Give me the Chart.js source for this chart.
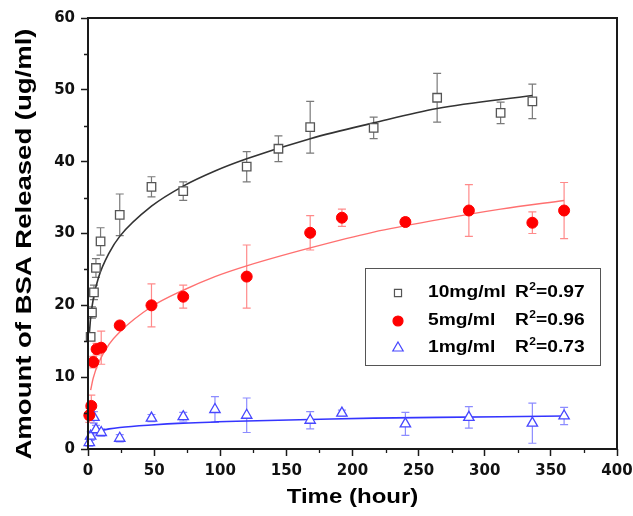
<!DOCTYPE html>
<html>
<head>
<meta charset="utf-8">
<script src="https://cdn.jsdelivr.net/npm/chart.js@4.4.1/dist/chart.umd.min.js"></script>
<style>
  html, body { margin: 0; padding: 0; background: #fff; }
  #wrap { width: 633px; height: 516px; }
</style>
</head>
<body>
<div id="wrap"><canvas id="chart" width="633" height="516"></canvas></div>
<script>
// measured points (time in hours, BSA in ug/ml, +/- error)
const t10 = [2, 3, 4.5, 6, 9.5, 24, 48, 72, 120, 144, 168, 216, 264, 312, 336];
const v10 = [15.6, 19.0, 21.8, 25.2, 28.9, 32.6, 36.5, 35.9, 39.3, 41.8, 44.8, 44.7, 48.9, 46.8, 48.4];
const e10 = [0.4, 0.8, 1.0, 1.3, 1.9, 2.9, 1.4, 1.3, 2.1, 1.8, 3.6, 1.5, 3.4, 1.5, 2.4];

const t5 = [1, 2.5, 4, 6.5, 10, 24, 48, 72, 120, 168, 192, 240, 288, 336, 360];
const v5 = [4.7, 6.0, 12.1, 13.9, 14.1, 17.2, 20.0, 21.2, 24.0, 30.1, 32.2, 31.6, 33.2, 31.5, 33.2];
const e5 = [1.0, 1.5, 0.8, 0.8, 2.3, 0.4, 3.0, 1.6, 4.4, 2.4, 1.2, 0.6, 3.6, 1.5, 3.9];

const t1 = [1, 2, 4.5, 6, 10, 24, 48, 72, 96, 120, 168, 192, 240, 288, 336, 360];
const v1 = [0.9, 1.8, 4.4, 2.7, 2.3, 1.5, 4.3, 4.5, 5.5, 4.7, 4.0, 5.0, 3.5, 4.4, 3.6, 4.6];
const e1 = [0.5, 0.6, 0.8, 0.6, 0.5, 0.5, 0.5, 0.6, 1.8, 2.4, 1.2, 0.4, 1.6, 1.5, 2.8, 1.2];

// fitted curves
const fitT10 = [1, 2, 4, 8, 16, 24, 48, 72, 96, 120, 168, 216, 264, 336];
const fitV10 = [16.0, 18.3, 20.9, 23.9, 27.3, 29.6, 33.8, 36.6, 38.7, 40.4, 43.2, 45.4, 47.4, 49.2];
const fitT5 = [2, 4, 8, 16, 24, 48, 72, 96, 120, 168, 216, 264, 312, 360];
const fitV5 = [8.2, 9.9, 12.0, 14.6, 16.3, 19.8, 22.1, 24.0, 25.5, 28.0, 30.2, 31.9, 33.4, 34.6];
const fitT1 = [0.5, 1, 2, 4, 8, 16, 24, 48, 72, 120, 168, 216, 264, 312, 360];
const fitV1 = [1.6, 1.8, 2.0, 2.25, 2.5, 2.8, 3.0, 3.35, 3.6, 3.9, 4.1, 4.3, 4.4, 4.5, 4.6];

const legendNames = ['10mg/ml', '5mg/ml', '1mg/ml'];
const r2Values = ['0.97', '0.96', '0.73'];
const xTitle = 'Time (hour)';
const yTitle = 'Amount of BSA Released (ug/ml)';

const FONT = '"Liberation Sans", Arial, sans-serif';
const TICK_FONT = '"DejaVu Sans", sans-serif';

const toXY = (xs, ys) => xs.map((x, i) => ({ x: x, y: ys[i] }));

// draw text stretched horizontally (the figure uses a wide bold sans)
function wideText(ctx, text, x, y, sx) {
  ctx.save();
  ctx.translate(x, y);
  ctx.scale(sx, 1);
  ctx.fillText(text, 0, 0);
  const w = ctx.measureText(text).width * sx;
  ctx.restore();
  return w;
}

const extras = {
  id: 'extras',
  beforeDatasetsDraw(chart) {
    const ctx = chart.ctx;
    const xs = chart.scales.x, ys = chart.scales.y;
    chart.data.datasets.forEach(ds => {
      if (!ds.errs) return;
      ctx.save();
      ctx.strokeStyle = ds.errColor;
      ctx.lineWidth = 1.2;
      ds.data.forEach((p, i) => {
        const px = xs.getPixelForValue(p.x);
        const top = ys.getPixelForValue(p.y + ds.errs[i]);
        const bot = ys.getPixelForValue(p.y - ds.errs[i]);
        ctx.beginPath();
        ctx.moveTo(px, top); ctx.lineTo(px, bot);
        ctx.moveTo(px - 4, top); ctx.lineTo(px + 4, top);
        ctx.moveTo(px - 4, bot); ctx.lineTo(px + 4, bot);
        ctx.stroke();
      });
      ctx.restore();
    });
  },
  afterDraw(chart) {
    const ctx = chart.ctx;
    const a = chart.chartArea;
    const xs = chart.scales.x, ys = chart.scales.y;
    ctx.save();

    // frame
    ctx.strokeStyle = '#1a1a1a';
    ctx.lineWidth = 2;
    ctx.strokeRect(a.left, a.top, a.right - a.left, a.bottom - a.top);

    // minor ticks
    ctx.lineWidth = 1.3;
    ctx.beginPath();
    for (let v = 25; v < 400; v += 50) {
      const px = Math.round(xs.getPixelForValue(v)) + 0.5;
      ctx.moveTo(px, a.bottom); ctx.lineTo(px, a.bottom + 4);
    }
    for (let v = 5; v < 60; v += 10) {
      const py = Math.round(ys.getPixelForValue(v)) + 0.5;
      ctx.moveTo(a.left, py); ctx.lineTo(a.left - 4, py);
    }
    ctx.stroke();

    // axis titles
    ctx.fillStyle = '#000';
    ctx.textBaseline = 'middle';
    ctx.textAlign = 'left';
    ctx.font = 'bold 20px ' + FONT;
    let w = ctx.measureText(xTitle).width * 1.2;
    wideText(ctx, xTitle, (a.left + a.right) / 2 - w / 2, 497, 1.2);

    ctx.save();
    ctx.translate(25, 244);
    ctx.rotate(-Math.PI / 2);
    ctx.font = 'bold 22px ' + FONT;
    const yw = ctx.measureText(yTitle).width;
    const sy = 431 / yw;
    wideText(ctx, yTitle, -yw * sy / 2, 0, sy);
    ctx.restore();

    // legend box
    const lx = a.left + 277, ly = a.top + 250;
    ctx.strokeStyle = '#555';
    ctx.lineWidth = 1;
    ctx.strokeRect(lx + 0.5, ly + 0.5, 235, 97);
    const rowsY = [25, 53, 80];
    const pts = chart.data.datasets.filter(d => d.errs);
    pts.forEach((ds, i) => {
      const cy = ly + rowsY[i];
      const cx = lx + 33;
      ctx.fillStyle = ds.backgroundColor;
      ctx.strokeStyle = ds.borderColor;
      ctx.lineWidth = 1.2;
      Chart.helpers.drawPoint(ctx, {
        pointStyle: ds.pointStyle,
        radius: ds.pointStyle === 'triangle' ? 6 : 5,
        borderWidth: 1.2,
        rotation: 0
      }, cx, cy);

      ctx.fillStyle = '#000';
      ctx.font = 'bold 16px ' + FONT;
      wideText(ctx, legendNames[i], lx + 63, cy, 1.2);
      let rx = lx + 150;
      rx += wideText(ctx, 'R', rx, cy, 1.2);
      ctx.font = 'bold 10px ' + FONT;
      rx += wideText(ctx, '2', rx + 0.5, cy - 6, 1.2);
      ctx.font = 'bold 16px ' + FONT;
      wideText(ctx, '=' + r2Values[i], rx + 0.5, cy, 1.2);
    });
    ctx.restore();
  }
};

const ctx = document.getElementById('chart').getContext('2d');
new Chart(ctx, {
  type: 'scatter',
  data: {
    datasets: [
      {
        label: legendNames[0],
        data: toXY(t10, v10),
        errs: e10,
        errColor: '#7a7a7a',
        pointStyle: 'rect',
        pointRadius: 6,
        backgroundColor: '#ffffff',
        borderColor: '#555555',
        borderWidth: 1.3,
        clip: false,
        order: 0
      },
      {
        label: legendNames[1],
        data: toXY(t5, v5),
        errs: e5,
        errColor: '#ff8a8a',
        pointStyle: 'circle',
        pointRadius: 5.5,
        backgroundColor: '#ff0000',
        borderColor: '#ff0000',
        borderWidth: 1,
        clip: false,
        order: 0
      },
      {
        label: legendNames[2],
        data: toXY(t1, v1),
        errs: e1,
        errColor: '#8c8cff',
        pointStyle: 'triangle',
        pointRadius: 6,
        backgroundColor: '#ffffff',
        borderColor: '#4747ff',
        borderWidth: 1.3,
        clip: false,
        order: 0
      },
      {
        label: 'fit10',
        data: toXY(fitT10, fitV10),
        showLine: true,
        pointRadius: 0,
        borderColor: '#333333',
        borderWidth: 1.6,
        cubicInterpolationMode: 'monotone',
        order: 1
      },
      {
        label: 'fit5',
        data: toXY(fitT5, fitV5),
        showLine: true,
        pointRadius: 0,
        borderColor: '#ff7070',
        borderWidth: 1.4,
        cubicInterpolationMode: 'monotone',
        order: 1
      },
      {
        label: 'fit1',
        data: toXY(fitT1, fitV1),
        showLine: true,
        pointRadius: 0,
        borderColor: '#3535ff',
        borderWidth: 1.6,
        cubicInterpolationMode: 'monotone',
        order: 1
      }
    ]
  },
  options: {
    responsive: false,
    animation: false,
    devicePixelRatio: 1,
    layout: { padding: { top: 18, right: 16, left: 0, bottom: 0 } },
    plugins: {
      legend: { display: false },
      tooltip: { enabled: false }
    },
    scales: {
      x: {
        type: 'linear',
        min: 0,
        max: 400,
        afterFit: s => { s.height = 67; s.paddingLeft = 0; s.paddingRight = 0; },
        ticks: {
          stepSize: 50,
          color: '#111',
          padding: 6,
          maxRotation: 0,
          font: { family: TICK_FONT, size: 15, weight: 'bold' }
        },
        grid: { drawOnChartArea: false, tickLength: 7, tickColor: '#1a1a1a', tickWidth: 1.5 },
        border: { display: false }
      },
      y: {
        min: 0,
        max: 60,
        afterFit: s => { s.width = 88; s.paddingTop = 0; s.paddingBottom = 0; },
        ticks: {
          stepSize: 10,
          color: '#111',
          padding: 6,
          font: { family: TICK_FONT, size: 15, weight: 'bold' }
        },
        grid: { drawOnChartArea: false, tickLength: 7, tickColor: '#1a1a1a', tickWidth: 1.5 },
        border: { display: false }
      }
    }
  },
  plugins: [extras]
});
</script>
</body>
</html>
